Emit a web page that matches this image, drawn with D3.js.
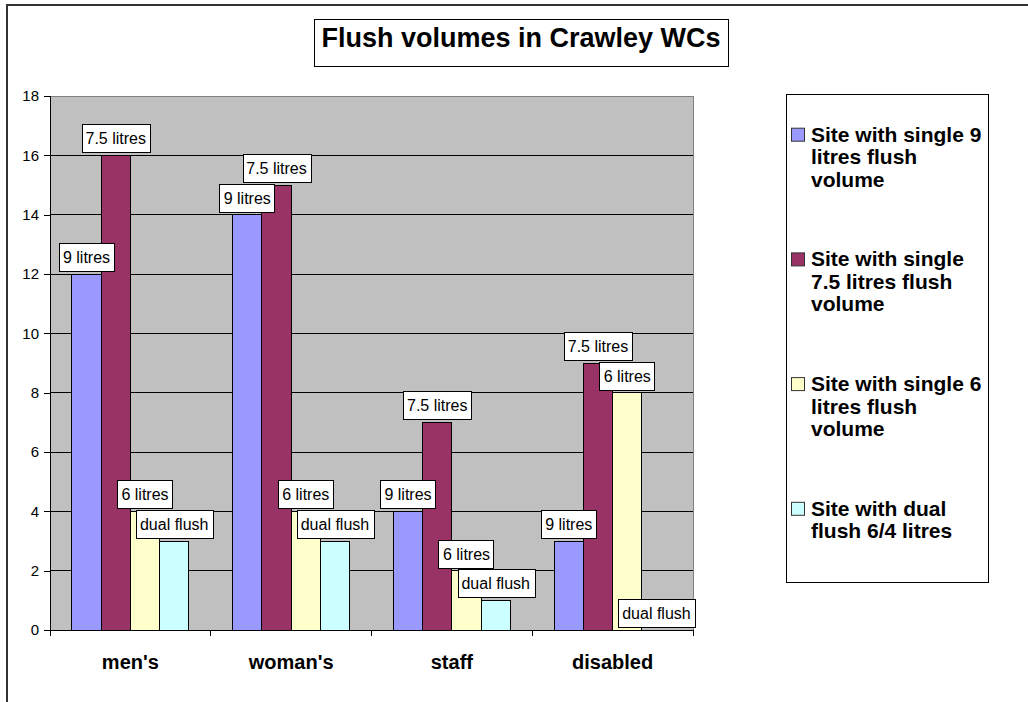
<!DOCTYPE html>
<html>
<head>
<meta charset="utf-8">
<script src="https://cdn.jsdelivr.net/npm/d3@7"></script>
<style>
  body { margin: 0; background: #fff; }
  svg { display: block; font-family: Arial, "Liberation Sans", sans-serif; }
  .gridline { stroke: #000; stroke-width: 1; shape-rendering: crispEdges; }
  .bar { stroke: #000; stroke-width: 1; shape-rendering: crispEdges; }
</style>
</head>
<body>
<div id="chart"></div>
<script>
(function() {

// the data
var categories = ["men's", "woman's", "staff", "disabled"];
var seriesNames = ["Site with single 9 litres flush volume",
                   "Site with single 7.5 litres flush volume",
                   "Site with single 6 litres flush volume",
                   "Site with dual flush 6/4 litres"];
var barLabels = ["9 litres", "7.5 litres", "6 litres", "dual flush"];
var single9 = [12, 14, 4, 3];
var single75 = [16, 15, 7, 9];
var single6 = [4, 4, 2, 8];
var dualFlush = [3, 3, 1, 0];
var yTicks = [0, 2, 4, 6, 8, 10, 12, 14, 16, 18];
var colors = ["#9999FF", "#993366", "#FFFFCC", "#CCFFFF"];

var allSeries = [single9, single75, single6, dualFlush];

// plot area inside the svg
var W = 1028, H = 702;
var plot = {left: 50, top: 96, right: 693, bottom: 630};

var svg = d3.select("#chart").append("svg")
    .attr("width", W)
    .attr("height", H);

// outer chart frame (only top and left show in the picture)
svg.append("path")
    .attr("d", "M7," + H + "V5H" + W)
    .attr("fill", "none")
    .attr("stroke", "#333")
    .attr("stroke-width", 2);

// title with its box
var title = svg.append("g");
title.append("rect")
    .attr("x", 314.5).attr("y", 19.5)
    .attr("width", 414).attr("height", 47)
    .attr("fill", "#fff").attr("stroke", "#000");
title.append("text")
    .attr("x", 521).attr("y", 47)
    .attr("text-anchor", "middle")
    .style("font-size", "27px").style("font-weight", "bold")
    .text("Flush volumes in Crawley WCs");

// scales
var y = d3.scaleLinear().domain([0, 18]).range([plot.bottom, plot.top]);
var x0 = d3.scaleBand().domain(categories).range([plot.left, plot.right]);
var x1 = d3.scaleBand().domain(d3.range(allSeries.length))
    .range([0, x0.bandwidth()])
    .paddingInner(0)
    .paddingOuter(0.75);

// grey plot background
svg.append("rect")
    .attr("x", plot.left).attr("y", plot.top)
    .attr("width", plot.right - plot.left)
    .attr("height", plot.bottom - plot.top)
    .attr("fill", "#C0C0C0")
    .attr("stroke", "#808080")
    .attr("shape-rendering", "crispEdges");

// horizontal gridlines
svg.append("g").selectAll("line")
    .data(yTicks.filter(function(d) { return d > 0 && d < 18; }))
  .enter().append("line")
    .attr("class", "gridline")
    .attr("x1", plot.left).attr("x2", plot.right)
    .attr("y1", function(d) { return y(d); })
    .attr("y2", function(d) { return y(d); });

// Y axis
var yAxis = svg.append("g")
    .attr("transform", "translate(" + plot.left + ",0)")
    .call(d3.axisLeft(y).tickValues(yTicks).tickSize(6).tickPadding(5));
yAxis.selectAll("text").style("font-size", "15px").attr("fill", "#000")
    .attr("font-family", null);
yAxis.selectAll("path, line").attr("stroke", "#000").attr("shape-rendering", "crispEdges");
yAxis.select(".domain").attr("d", "M0," + plot.top + "V" + plot.bottom);

// X axis, ticks sit on the category boundaries
var xEdges = categories.map(function(c) { return x0(c); }).concat([plot.right]);
var xAxis = svg.append("g")
    .attr("transform", "translate(0," + plot.bottom + ")");
xAxis.append("line")
    .attr("x1", plot.left).attr("x2", plot.right)
    .attr("stroke", "#000").attr("shape-rendering", "crispEdges");
xAxis.selectAll(".xtick")
    .data(xEdges)
  .enter().append("line")
    .attr("class", "xtick")
    .attr("x1", function(d) { return d; }).attr("x2", function(d) { return d; })
    .attr("y1", 0).attr("y2", 6)
    .attr("stroke", "#000").attr("shape-rendering", "crispEdges");
xAxis.selectAll(".xlabel")
    .data(categories)
  .enter().append("text")
    .attr("class", "xlabel")
    .attr("x", function(d) { return x0(d) + x0.bandwidth() / 2; })
    .attr("y", 39)
    .attr("text-anchor", "middle")
    .style("font-size", "20px").style("font-weight", "bold")
    .text(function(d) { return d; });

// flatten into one list of bars, series by series
var bars = [];
allSeries.forEach(function(vals, s) {
  vals.forEach(function(v, i) {
    bars.push({s: s, cat: categories[i], value: v});
  });
});

svg.append("g").selectAll("rect")
    .data(bars)
  .enter().append("rect")
    .attr("class", "bar")
    .attr("x", function(d) { return x0(d.cat) + x1(d.s); })
    .attr("y", function(d) { return y(d.value); })
    .attr("width", x1.bandwidth())
    .attr("height", function(d) { return y(0) - y(d.value); })
    .attr("fill", function(d) { return colors[d.s]; });

// data labels in white boxes above each bar
var lab = svg.append("g").selectAll("g")
    .data(bars)
  .enter().append("g")
    .attr("transform", function(d) {
      return "translate(" + (x0(d.cat) + x1(d.s) + x1.bandwidth() / 2) + "," + (y(d.value) - 2) + ")";
    });
lab.append("rect")
    .attr("fill", "#fff").attr("stroke", "#000")
    .attr("shape-rendering", "crispEdges");
lab.append("text")
    .attr("text-anchor", "middle")
    .attr("y", -9)
    .style("font-size", "16px")
    .text(function(d) { return barLabels[d.s]; });
lab.each(function() {
  var g = d3.select(this);
  var w = g.select("text").node().getComputedTextLength() + 8;
  g.select("rect")
      .attr("x", Math.round(-w / 2) + 0.5).attr("y", -28.5)
      .attr("width", Math.round(w)).attr("height", 28);
});

// legend
var legend = svg.append("g");
legend.append("rect")
    .attr("x", 786.5).attr("y", 94.5)
    .attr("width", 202).attr("height", 488)
    .attr("fill", "#fff").attr("stroke", "#000");

var legendTop = 141.7, legendStep = 124.7, lineH = 22.5, maxW = 176;

seriesNames.forEach(function(name, s) {
  var base = legendTop + s * legendStep;
  legend.append("rect")
      .attr("x", 791.5).attr("y", base - 13.5)
      .attr("width", 13).attr("height", 13)
      .attr("fill", colors[s]).attr("stroke", "#333");
  var t = legend.append("text")
      .attr("x", 811).attr("y", base)
      .style("font-size", "21px").style("font-weight", "bold");
  // simple word wrap
  var words = name.split(" "), line = [], n = 0;
  var tspan = t.append("tspan").attr("x", 811).attr("dy", 0);
  words.forEach(function(w) {
    line.push(w);
    tspan.text(line.join(" "));
    if (tspan.node().getComputedTextLength() > maxW && line.length > 1) {
      line.pop();
      tspan.text(line.join(" "));
      line = [w];
      n++;
      tspan = t.append("tspan").attr("x", 811).attr("dy", lineH).text(w);
    }
  });
});

})();
</script>
</body>
</html>
